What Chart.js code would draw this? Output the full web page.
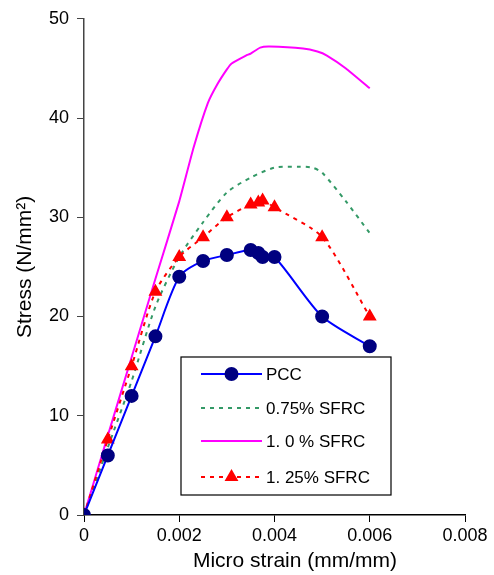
<!DOCTYPE html>
<html>
<head>
<meta charset="utf-8">
<script src="https://cdn.jsdelivr.net/npm/chart.js@4/dist/chart.umd.min.js"></script>
<style>
  html, body { margin: 0; padding: 0; background: #fff; }
  #wrap { width: 494px; height: 575px; }
</style>
</head>
<body>
<div id="wrap"><canvas id="c" width="494" height="575"></canvas></div>
<script>
const FONT = "'Liberation Sans', Arial, sans-serif";

// strain (mm/mm) / stress (N/mm2)
const pccStrain = [0, 0.0005, 0.001, 0.0015, 0.002, 0.0025, 0.003, 0.0035, 0.00366, 0.00375, 0.004, 0.005, 0.006];
const pccStress = [0, 6, 12, 18, 24, 25.6, 26.2, 26.7, 26.4, 26, 26, 20, 17];

const sfrc075Strain = [0, 0.0005, 0.001, 0.0015, 0.002, 0.0025, 0.003, 0.0035, 0.004, 0.0045, 0.0048, 0.005, 0.0055, 0.006];
const sfrc075Stress = [0, 6.8, 13.5, 21, 26, 29.5, 32.5, 34, 35, 35.1, 35, 34.5, 31.6, 28.4];

const sfrc100Strain = [0, 0.0005, 0.001, 0.0015, 0.002, 0.0023, 0.0026, 0.0028, 0.003, 0.0031, 0.0034, 0.0035, 0.0037, 0.0039, 0.0046, 0.0049, 0.0051, 0.0055, 0.006];
const sfrc100Stress = [0, 8, 15.9, 23.8, 31.6, 37, 41.5, 43.4, 44.9, 45.5, 46.3, 46.5, 47.1, 47.2, 47, 46.7, 46.3, 45, 43];

const sfrc125Strain = [0, 0.0005, 0.001, 0.0015, 0.002, 0.0025, 0.003, 0.0035, 0.00366, 0.00375, 0.004, 0.005, 0.006];
const sfrc125Stress = [0, 7.6, 15, 22.5, 26, 28, 30, 31.3, 31.5, 31.7, 31, 28, 20];

const xTicks = [0, 0.002, 0.004, 0.006, 0.008];
const xTickLabels = ["0", "0.002", "0.004", "0.006", "0.008"];
const yTicks = [0, 10, 20, 30, 40, 50];

const pts = (xs, ys) => xs.map((x, i) => ({ x, y: ys[i] }));

const datasets = [
  {
    label: "PCC",
    data: pts(pccStrain, pccStress),
    borderColor: "#0000ff",
    borderWidth: 2,
    backgroundColor: "#000080",
    pointBackgroundColor: "#000080",
    pointBorderColor: "#000080",
    pointStyle: "circle",
    pointRadius: 6,
    tension: 0.25,
    order: 1,
  },
  {
    label: "0.75% SFRC",
    data: pts(sfrc075Strain, sfrc075Stress),
    borderColor: "#339966",
    borderWidth: 2,
    borderDash: [4, 5],
    pointRadius: 0,
    tension: 0.25,
    order: 3,
  },
  {
    label: "1. 0 % SFRC",
    data: pts(sfrc100Strain, sfrc100Stress),
    borderColor: "#ff00ff",
    borderWidth: 2,
    pointRadius: 0,
    tension: 0.15,
    order: 4,
  },
  {
    label: "1. 25% SFRC",
    data: pts(sfrc125Strain, sfrc125Stress),
    borderColor: "#ff0000",
    borderWidth: 2,
    borderDash: [4, 5],
    backgroundColor: "#ff0000",
    pointBackgroundColor: "#ff0000",
    pointBorderColor: "#ff0000",
    pointStyle: "triangle",
    pointRadius: 6,
    tension: 0.25,
    order: 2,
  },
];

// boxed legend inside the plot, like the original
const boxLegend = {
  id: "boxLegend",
  afterDraw(chart, args, opts) {
    const { ctx } = chart;
    const { left, top, width, height, rows, lineX0, lineX1, textX } = opts;
    ctx.save();
    ctx.fillStyle = "#fff";
    ctx.fillRect(left, top, width, height);
    ctx.strokeStyle = "#000";
    ctx.lineWidth = 1.2;
    ctx.strokeRect(left, top, width, height);
    ctx.font = "17px " + FONT;
    ctx.textBaseline = "middle";
    chart.data.datasets.forEach((ds, i) => {
      const y = rows[i];
      ctx.strokeStyle = ds.borderColor;
      ctx.lineWidth = ds.borderWidth;
      ctx.setLineDash(ds.borderDash || []);
      ctx.beginPath();
      ctx.moveTo(lineX0, y);
      ctx.lineTo(lineX1, y);
      ctx.stroke();
      ctx.setLineDash([]);
      if (ds.pointRadius) {
        ctx.fillStyle = ds.pointBackgroundColor;
        ctx.strokeStyle = ds.pointBorderColor;
        Chart.helpers.drawPoint(ctx, {
          pointStyle: ds.pointStyle,
          radius: ds.pointRadius,
          rotation: 0,
          borderWidth: 1,
        }, (lineX0 + lineX1) / 2, y);
      }
      ctx.fillStyle = "#000";
      ctx.fillText(ds.label, textX, y + 1);
    });
    ctx.restore();
  },
};

// x axis title sits a bit right of centre in the original
const xTitle = {
  id: "xTitle",
  afterDraw(chart, args, opts) {
    const { ctx } = chart;
    ctx.save();
    ctx.font = "21px " + FONT;
    ctx.fillStyle = "#000";
    ctx.textAlign = "center";
    ctx.textBaseline = "alphabetic";
    ctx.fillText(opts.text, opts.x, opts.y);
    ctx.restore();
  },
};

new Chart(document.getElementById("c").getContext("2d"), {
  type: "line",
  data: { datasets },
  plugins: [boxLegend, xTitle],
  options: {
    responsive: false,
    animation: false,
    layout: { padding: { top: 15, right: 29, left: 0, bottom: 0 } },
    plugins: {
      legend: { display: false },
      tooltip: { enabled: false },
      boxLegend: {
        left: 181, top: 357, width: 210, height: 138,
        rows: [374, 408, 441, 477],
        lineX0: 201, lineX1: 262, textX: 266,
      },
      xTitle: { text: "Micro strain (mm/mm)", x: 295, y: 567 },
    },
    scales: {
      x: {
        type: "linear",
        min: 0,
        max: 0.008,
        afterFit: (s) => { s.height = 60; },
        afterBuildTicks: (s) => { s.ticks = xTicks.map((v) => ({ value: v })); },
        grid: { display: true, drawOnChartArea: false, tickLength: 7, color: "#000" },
        border: { display: true, color: "#000", width: 1.5 },
        ticks: {
          color: "#000",
          padding: 3,
          maxRotation: 0,
          font: { family: FONT, size: 18 },
          callback: (v) => xTickLabels[xTicks.indexOf(v)],
        },
      },
      y: {
        min: 0,
        max: 50,
        afterFit: (s) => { s.width = 84; },
        afterBuildTicks: (s) => { s.ticks = yTicks.map((v) => ({ value: v })); },
        grid: { display: true, drawOnChartArea: false, tickLength: 7, color: "#444" },
        border: { display: true, color: "#444", width: 1.5 },
        ticks: {
          color: "#000",
          padding: 8,
          font: { family: FONT, size: 18 },
        },
        title: {
          display: true,
          text: "Stress (N/mm²)",
          color: "#000",
          font: { family: FONT, size: 21 },
          padding: { top: 13, bottom: 0 },
        },
      },
    },
  },
});
</script>
</body>
</html>
